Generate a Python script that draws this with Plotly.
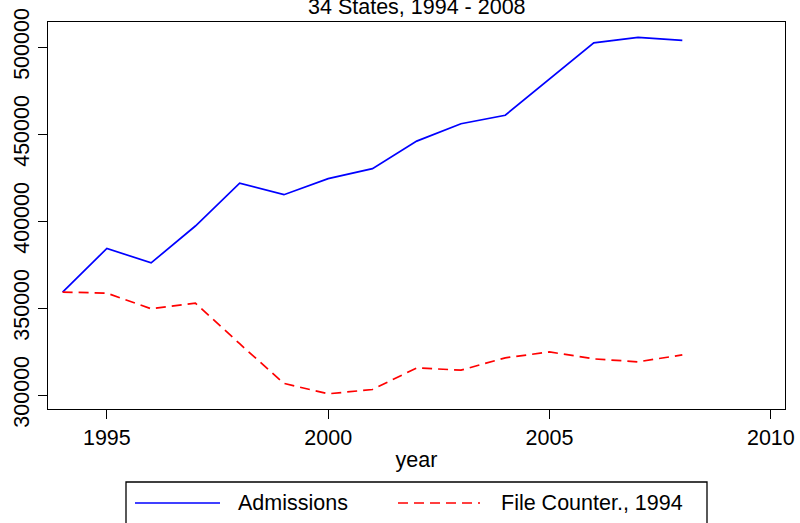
import plotly.graph_objects as go

years = list(range(1994, 2009))
admissions = [359200, 384300, 376000, 397200, 421800, 415200, 424400, 430200,
              446000, 456000, 460900, 481600, 502500, 505600, 503900]
file_counter = [359200, 358600, 349600, 352900, 329500, 306700, 300700, 303200,
                315600, 314300, 321400, 324800, 320800, 319100, 323100]

series_names = ["Admissions", "File Counter., 1994"]
x_ticks = [1995, 2000, 2005, 2010]
y_ticks = [300000, 350000, 400000, 450000, 500000]
y_labels = [str(v) for v in y_ticks]

font = dict(family="Liberation Sans, Arial, sans-serif", size=21.5, color="black")

fig = go.Figure()
fig.add_trace(go.Scatter(x=years, y=admissions, mode="lines", name=series_names[0],
                         line=dict(color="#0000ff", width=1.7), showlegend=False))
fig.add_trace(go.Scatter(x=years, y=file_counter, mode="lines", name=series_names[1],
                         line=dict(color="#ff0000", width=1.7, dash="10px,6px"),
                         showlegend=False))

# plot area in pixels: left 48, right 785, top 22, bottom 409
L, R, T, B = 48, 785, 22, 409
def px(x):
    return (x - L) / (R - L)
def py(y):
    return (B - y) / (B - T)

# hand-drawn Stata-style legend box
fig.add_shape(type="rect", xref="paper", yref="paper",
              x0=px(126), x1=px(707), y0=py(482), y1=py(540),
              line=dict(color="black", width=1.3), fillcolor="white")
fig.add_shape(type="line", xref="paper", yref="paper",
              x0=px(135), x1=px(220), y0=py(503), y1=py(503),
              line=dict(color="#0000ff", width=1.7))
fig.add_shape(type="line", xref="paper", yref="paper",
              x0=px(398), x1=px(480), y0=py(503), y1=py(503),
              line=dict(color="#ff0000", width=1.7, dash="10px,6px"))
fig.add_annotation(text=series_names[0], xref="paper", yref="paper",
                   x=px(236), y=py(503), xanchor="left", yanchor="middle",
                   showarrow=False, font=font)
fig.add_annotation(text=series_names[1], xref="paper", yref="paper",
                   x=px(499), y=py(503), xanchor="left", yanchor="middle",
                   showarrow=False, font=font)

# title, partly cut off at the top like the original
fig.add_annotation(text="34 States, 1994 - 2008", xref="paper", yref="paper",
                   x=0.5, y=py(6.5), xanchor="center", yanchor="middle",
                   showarrow=False, font=font)

fig.update_layout(
    width=800, height=523,
    margin=dict(l=L, r=800 - R, t=T, b=523 - B, autoexpand=False),
    paper_bgcolor="white", plot_bgcolor="white",
    font=font,
    showlegend=False,
)
fig.update_xaxes(range=[1993.67, 2010.32], tickvals=x_ticks, ticks="outside",
                 ticklen=9, tickwidth=1.3, tickcolor="black",
                 showline=True, linecolor="black", linewidth=1.3, mirror=True,
                 showgrid=False, zeroline=False, automargin=False,
                 title=dict(text="year", standoff=2, font=font))
fig.update_yaxes(range=[291980, 514490], tickvals=y_ticks, ticktext=y_labels,
                 ticks="outside", ticklen=9, tickwidth=1.3, tickcolor="black",
                 tickangle=-90, automargin=False,
                 showline=True, linecolor="black", linewidth=1.3, mirror=True,
                 showgrid=False, zeroline=False)

# the page body has a default 8px margin; drop it so the figure sits at 0,0
fig.write_html("out.html", config={"displayModeBar": False},
               post_script="document.body.style.margin='0px';")
